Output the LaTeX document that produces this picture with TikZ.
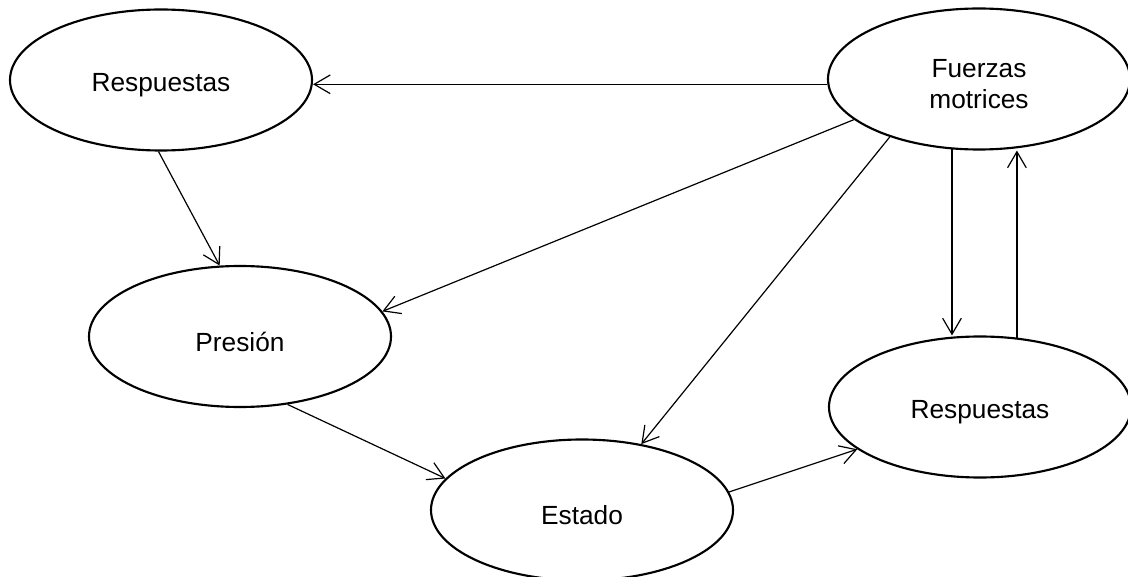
\documentclass[tikz,border=0pt]{standalone}
\usepackage{fontspec}
\setmainfont{Liberation Sans}
\usetikzlibrary{shapes.geometric,arrows.meta}
\newcommand\lowtxt[1]{\raisebox{0pt}[\dimexpr\height+7.5pt\relax][\depth]{#1}}
\begin{document}
\begin{tikzpicture}[x=0.75pt,y=-0.75pt,
  elli/.style={ellipse, draw, line width=1.6pt, minimum width=226.5pt, minimum height=105.75pt, inner sep=0pt, align=center, font=\fontsize{19.7}{23.3}\selectfont},
  arr/.style={-{Straight Barb[length=12pt,width=14pt]}, line width=0.9pt}]
\useasboundingbox (0,0) rectangle (1128,577);
\node[elli] (r1) at (161,80) {\lowtxt{Respuestas}};
\node[elli] (fm) at (979,79) {\lowtxt{Fuerzas}\\motrices};
\node[elli] (p) at (240,336.5) {\lowtxt{Presión}};
\node[elli] (es) at (582,510) {\lowtxt{Estado}};
\node[elli] (q) at (980,407) {\lowtxt{Respuestas}};
\draw[arr] (fm.182) -- (fm.182 -| r1.east);
\draw[arr] (r1.268) -- (p.106);
\draw[arr] (fm.198) -- (p.10);
\draw[arr] (fm.213) -- (es.48);
\draw[arr] (fm.249) -- (fm.249 |- q.north);
\draw[arr] (q.62) -- (q.62 |- fm.south);
\draw[arr] (p.305) -- (es.167);
\draw[arr] (es.7) -- (q.199);
\end{tikzpicture}
\end{document}
